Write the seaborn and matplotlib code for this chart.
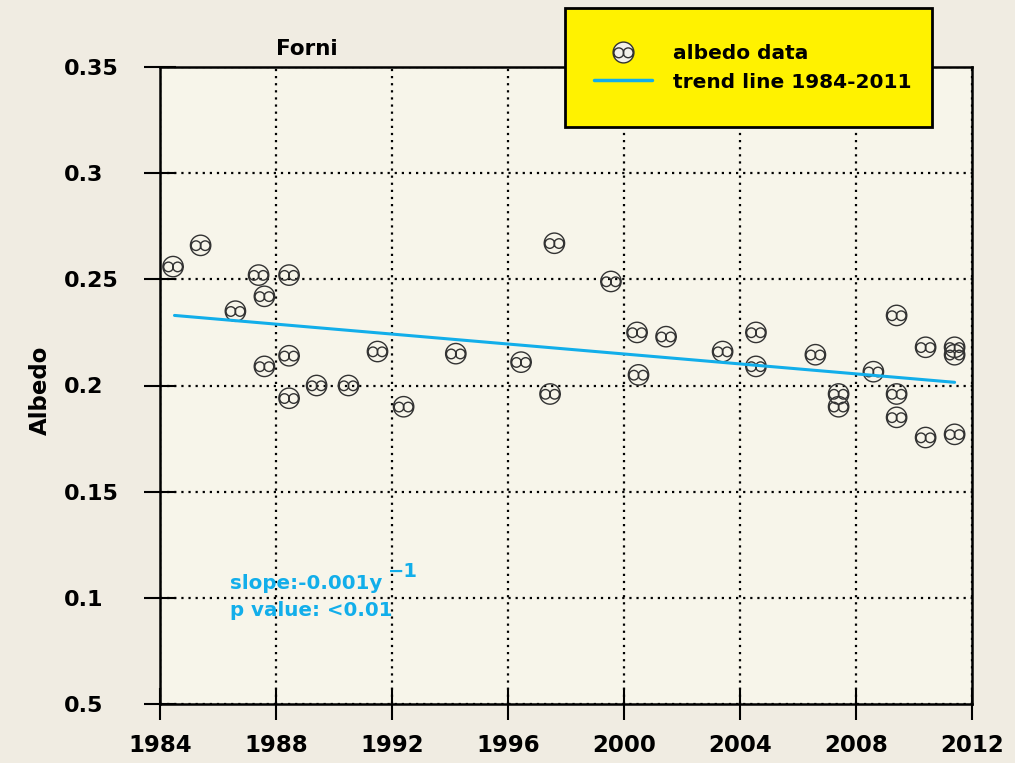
import matplotlib
matplotlib.use("Agg")
import matplotlib.pyplot as plt
import numpy as np
import seaborn as sns
from matplotlib.lines import Line2D
from matplotlib.patches import Rectangle
from matplotlib.path import Path

# ---------------------------------------------------------------------------
# Data
# ---------------------------------------------------------------------------
years = [
    1984.45, 1985.4, 1986.6, 1987.4, 1987.6, 1987.6, 1988.45, 1988.45, 1988.45,
    1989.4, 1990.5, 1991.5, 1992.4, 1994.2, 1996.45, 1997.45, 1997.6, 1999.55,
    2000.45, 2000.5, 2001.45, 2003.4, 2004.55, 2004.55, 2006.6, 2007.4, 2007.4,
    2008.6, 2009.4, 2009.4, 2009.4, 2010.4, 2010.4, 2011.4, 2011.4, 2011.4,
]
albedo = [
    0.256, 0.266, 0.235, 0.252, 0.242, 0.209, 0.252, 0.214, 0.194,
    0.200, 0.200, 0.216, 0.190, 0.215, 0.211, 0.196, 0.267, 0.249,
    0.225, 0.205, 0.223, 0.216, 0.225, 0.209, 0.2145, 0.196, 0.190,
    0.2065, 0.233, 0.196, 0.185, 0.218, 0.1755, 0.218, 0.2145, 0.177,
]
trend_years = [1984.5, 2011.4]
trend_values = [0.233, 0.2015]

x_ticks = [1984, 1988, 1992, 1996, 2000, 2004, 2008, 2012]
y_ticks = [0.05, 0.1, 0.15, 0.2, 0.25, 0.3, 0.35]
y_tick_labels = ["0.5", "0.1", "0.15", "0.2", "0.25", "0.3", "0.35"]

FIG_BG = "#F0ECE2"
AX_BG = "#F7F5EA"
CYAN = "#12AEEA"
YELLOW = "#FFF200"
EDGE = "#333333"

# marker: a circle with two small circles inside
circ = Path.unit_circle()
verts = np.concatenate([
    circ.vertices,
    circ.vertices * 0.47 + [-0.45, -0.03],
    circ.vertices * 0.47 + [0.45, -0.03],
])
codes = np.concatenate([circ.codes] * 3)
albedo_marker = Path(verts, codes)

sns.set_theme(style="white")
plt.rcParams["font.family"] = ["DejaVu Sans"]
plt.rcParams["font.weight"] = "bold"
plt.rcParams["text.color"] = "black"

fig = plt.figure(figsize=(10.15, 7.63), dpi=100, facecolor=FIG_BG)
ax = fig.add_axes([160 / 1015, 1 - 704 / 763, 812 / 1015, 637 / 763])
ax.set_facecolor(AX_BG)

sns.scatterplot(
    x=years, y=albedo, marker=albedo_marker, s=215,
    facecolor="none", edgecolor=EDGE, linewidth=1.0, ax=ax, zorder=3,
)
sns.lineplot(x=trend_years, y=trend_values, color=CYAN, linewidth=2.2, ax=ax, zorder=4)

ax.set_xlim(1984, 2012)
ax.set_ylim(0.05, 0.35)
ax.set_xticks(x_ticks)
ax.set_xticklabels([str(t) for t in x_ticks])
ax.set_yticks(y_ticks)
ax.set_yticklabels(y_tick_labels, ha="left")
ax.tick_params(axis="x", bottom=True, direction="inout", length=23, width=1.5,
               pad=10, labelsize=16.5, colors="black")
ax.tick_params(axis="y", left=True, direction="inout", length=23, width=1.5,
               pad=58, labelsize=16, colors="black")
ax.grid(True, color="black", linestyle=(0, (1, 2.2)), linewidth=1.6)
for sp in ax.spines.values():
    sp.set_visible(True)
    sp.set_color("black")
    sp.set_linewidth(1.8)
ax.set_xlabel("")
ax.set_ylabel("")

fig.text(307 / 1015, 1 - 55 / 763, "Forni", ha="center", va="baseline",
         fontsize=15.5, fontweight="bold", color="black")
fig.text(40 / 1015, 1 - 390 / 763, "Albedo", rotation=90, ha="center",
         va="center", fontsize=16.5, fontweight="bold", color="black")

ax.text(1986.4, 0.104, "slope:-0.001y", color=CYAN, fontsize=14.3,
        fontweight="bold", va="baseline")
ax.text(1991.85, 0.1098, "\u22121", color=CYAN, fontsize=14,
        fontweight="bold", va="baseline")
ax.text(1986.4, 0.0915, "p value: <0.01", color=CYAN, fontsize=14.3,
        fontweight="bold", va="baseline")

# yellow legend box (drawn over the top of the axes)
box = Rectangle((565 / 1015, 1 - 127 / 763), 367 / 1015, 119 / 763,
                transform=fig.transFigure, facecolor=YELLOW, edgecolor="black",
                linewidth=2.0, zorder=5)
fig.patches.append(box)

handles = [
    Line2D([], [], linestyle="none", marker=albedo_marker, markersize=15,
           markerfacecolor="#F2F0EA", markeredgecolor=EDGE, markeredgewidth=1.0),
    Line2D([], [], color=CYAN, linewidth=2.5),
]
leg = fig.legend(
    handles, ["albedo data", "trend line 1984-2011"],
    loc="center left", bbox_to_anchor=(594 / 1015, 1 - 68 / 763),
    frameon=False, borderpad=0, labelspacing=0.45,
    handlelength=2.9, handletextpad=1.0, borderaxespad=0,
    prop={"weight": "bold", "size": 14.5},
)
leg.set_zorder(6)
for t in leg.get_texts():
    t.set_color("black")

fig.savefig("out.png", dpi=100, facecolor=FIG_BG)
